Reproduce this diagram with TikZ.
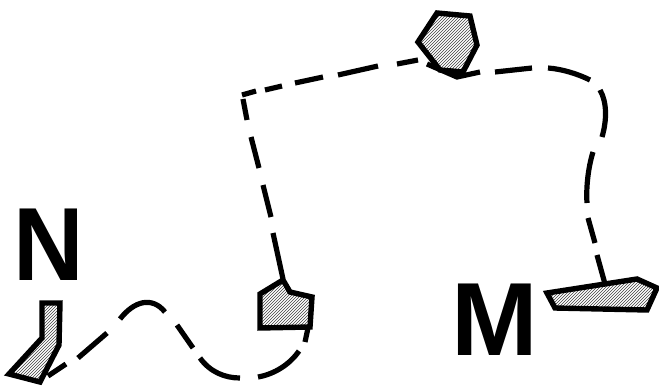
\documentclass[tikz,border=0pt]{standalone}
\usepackage{fontspec}
\setmainfont{Liberation Sans}
\usetikzlibrary{patterns}
\begin{document}
\begin{tikzpicture}[x=1pt,y=-1pt,
  blob/.style={draw=black, line width=5.4pt, line join=miter, pattern=north east lines, pattern color=black!75},
  seg/.style={draw=black, line width=5.2pt},
  letter/.style={inner sep=0pt, font=\bfseries\fontsize{104}{104}\selectfont}]
\useasboundingbox (0,0) rectangle (659,389);
% letters
\node[letter, xscale=0.94] (N) at (49,245) {N};
\node[letter] (M) at (495,320) {M};
% route from N-shape to pentagon (individual dashes)
\draw[seg] (48,376) -- (66,364);
\draw[seg] (78,358) -- (107,333);
\draw[seg] (120,319) .. controls (134,301) and (152,296) .. (165,312);
\draw[seg] (177,325) -- (193,348);
\draw[seg] (200,358) .. controls (210,372) and (225,378) .. (240,378);
\draw[seg] (258,377) .. controls (275,374) and (290,364) .. (299,351);
\draw[seg] (305,342) -- (308,328);
% route from pentagon up and across to hexagon
\draw[seg] (283,279) -- (273,233);
\draw[seg] (271,217) -- (263,185);
\draw[seg] (259,168) -- (251,137);
\draw[seg] (247,120) -- (243,99);
\draw[seg] (242,95) -- (256,91);
\draw[seg] (265,90) -- (282,86);
\draw[seg] (295,83) -- (323,77);
\draw[seg] (338,75) -- (378,66);
\draw[seg] (397,64) -- (418,60);
\draw[seg, line join=miter] (427,64) -- (457,77) -- (480,72);
% route from hexagon to M-shape
\draw[seg] (495,72) -- (532,68);
\draw[seg] (548,68) .. controls (562,69) and (578,74) .. (590,80);
\draw[seg] (600,90) .. controls (607,102) and (607,120) .. (602,137);
\draw[seg] (593,152) .. controls (588,168) and (586,188) .. (587,203);
\draw[seg] (588,218) -- (595,243);
\draw[seg] (597,255) -- (605,284);
% shapes
\draw[blob] (42,303) -- (60,303) -- (59,345) -- (40,382) -- (9,374) -- (42,338) -- cycle;
\draw[blob] (260,294) -- (283,280) -- (290,292) -- (312,297) -- (310,327) -- (260,328) -- cycle;
\draw[blob] (437,13) -- (470,16) -- (477,45) -- (463,72) -- (440,70) -- (418,42) -- cycle;
\draw[blob] (547,293) -- (637,279) -- (657,288) -- (647,310) -- (555,308) -- cycle;
\end{tikzpicture}
\end{document}
